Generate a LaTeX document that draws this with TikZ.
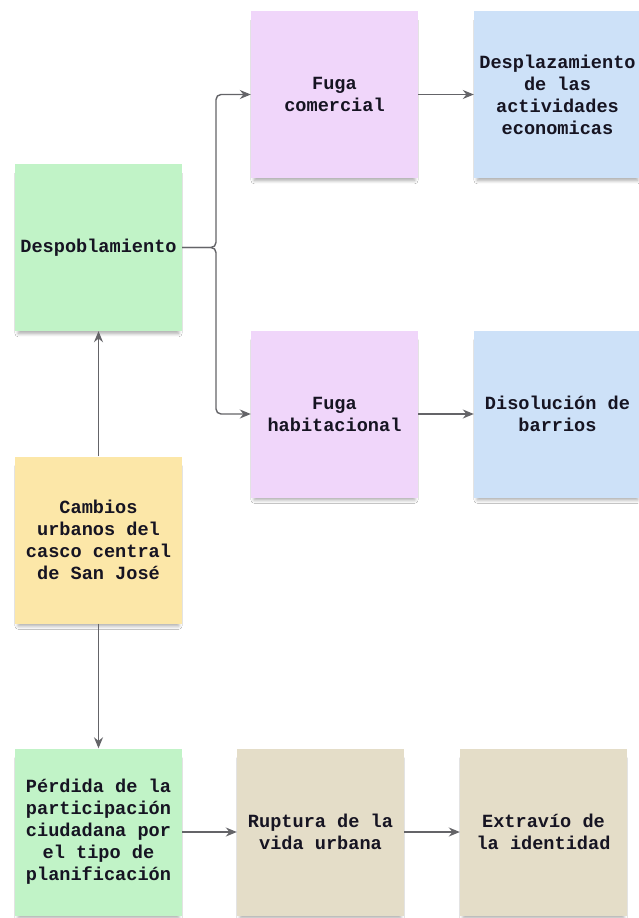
\documentclass[tikz,border=0pt]{standalone}
\usepackage{fontspec}
\newfontfamily\monob{Liberation Mono}[BoldFont={Liberation Mono Bold}]
\usetikzlibrary{shadows.blur,arrows.meta}
\definecolor{cgreen}{RGB}{193,243,199}
\definecolor{cpurple}{RGB}{240,214,250}
\definecolor{cblue}{RGB}{205,225,248}
\definecolor{cyellow}{RGB}{252,231,168}
\definecolor{ctan}{RGB}{228,221,200}
\definecolor{ctext}{RGB}{22,20,34}
\definecolor{cline}{RGB}{100,100,104}
\tikzset{
  note/.style={minimum width=167pt, minimum height=167pt, inner sep=0pt,
    align=center, text=ctext,
    font=\monob\bfseries\fontsize{18.6}{22}\selectfont,
    blur shadow={shadow xshift=0pt, shadow yshift=-6pt, shadow scale=0.96, shadow blur radius=3.5pt, shadow blur steps=8, shadow opacity=35}},
  conn/.style={draw=cline, line width=1.4pt, -{Stealth[length=11pt,width=9pt]}},
}
\begin{document}
\begin{tikzpicture}[x=1pt,y=-1pt]
\useasboundingbox[fill=white] (0,0) rectangle (639,918);
\node[note, fill=cgreen]  (despo) at (98.5,247.5) {Despoblamiento};
\node[note, fill=cyellow] (cambios) at (98.5,540) {Cambios\\urbanos del\\casco central\\de San José};
\node[note, fill=cgreen]  (perdida) at (98.5,832) {Pérdida de la\\participación\\ciudadana por\\el tipo de\\planificación};
\node[note, fill=ctan]    (ruptura) at (320.5,832) {Ruptura de la\\vida urbana};
\node[note, fill=ctan]    (extravio) at (543.5,832) {Extravío de\\la identidad};
\node[note, fill=cpurple] (fcom) at (334.5,94.5) {Fuga\\comercial};
\node[note, fill=cblue]   (despl) at (557.5,94.5) {Desplazamiento\\de las\\actividades\\economicas};
\node[note, fill=cpurple] (fhab) at (334.5,414) {Fuga\\habitacional};
\node[note, fill=cblue]   (disol) at (557.5,414) {Disolución de\\barrios};
\coordinate (bus) at (216,247.5);
\draw[conn, rounded corners=5pt] (despo.east) -- (bus) |- (fcom.west);
\draw[conn, rounded corners=5pt] (despo.east) -- (bus) |- (fhab.west);
\draw[conn] (fcom.east) -- (despl.west);
\draw[conn] (fhab.east) -- (disol.west);
\draw[conn] (cambios.north) -- (despo.south);
\draw[conn] (cambios.south) -- (perdida.north);
\draw[conn] (perdida.east) -- (ruptura.west);
\draw[conn] (ruptura.east) -- (extravio.west);
\end{tikzpicture}
\end{document}
